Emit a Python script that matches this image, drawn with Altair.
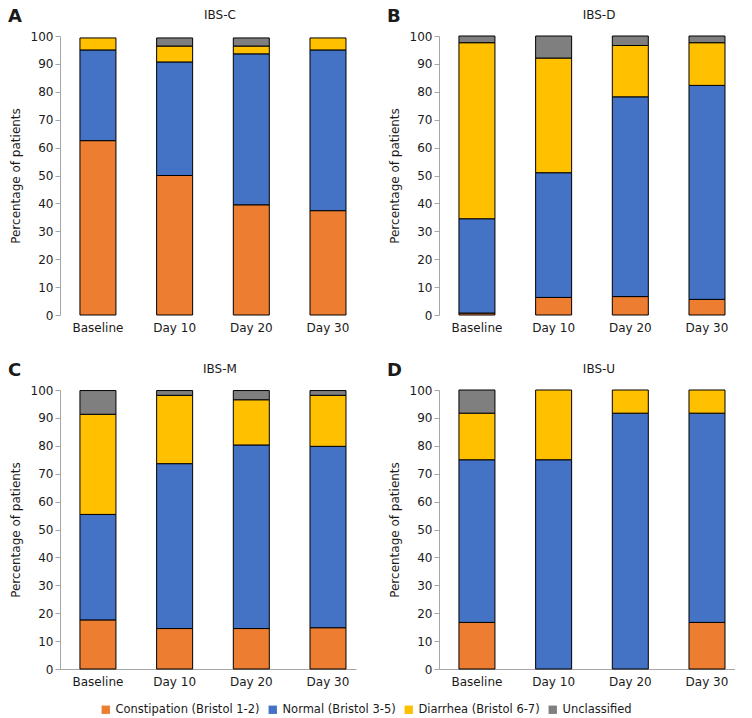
import altair as alt
import pandas as pd

categories = ["Constipation (Bristol 1-2)", "Normal (Bristol 3-5)", "Diarrhea (Bristol 6-7)", "Unclassified"]
colors = ["#ED7D31", "#4472C4", "#FFC000", "#7F7F7F"]
timepoints = ["Baseline", "Day 10", "Day 20", "Day 30"]

panel_titles = ["IBS-C", "IBS-D", "IBS-M", "IBS-U"]
panel_letters = ["A", "B", "C", "D"]

# IBS-C
c_constipation = [62.5, 50.0, 39.5, 37.4]
c_normal = [32.5, 40.7, 54.1, 57.6]
c_diarrhea = [4.3, 5.7, 2.8, 4.3]
c_unclassified = [0.0, 2.9, 2.9, 0.0]
# IBS-D
d_constipation = [0.7, 6.3, 6.6, 5.6]
d_normal = [33.8, 44.7, 71.6, 76.7]
d_diarrhea = [63.1, 41.1, 18.4, 15.3]
d_unclassified = [2.4, 7.9, 3.4, 2.4]
# IBS-M
m_constipation = [17.6, 14.5, 14.5, 14.8]
m_normal = [37.8, 59.1, 65.8, 65.0]
m_diarrhea = [35.9, 24.5, 16.2, 18.3]
m_unclassified = [8.5, 1.7, 3.3, 1.7]
# IBS-U
u_constipation = [16.7, 0.0, 0.0, 16.7]
u_normal = [58.3, 75.0, 91.7, 75.0]
u_diarrhea = [16.7, 25.0, 8.3, 8.3]
u_unclassified = [8.3, 0.0, 0.0, 0.0]

panel_series = [
    [c_constipation, c_normal, c_diarrhea, c_unclassified],
    [d_constipation, d_normal, d_diarrhea, d_unclassified],
    [m_constipation, m_normal, m_diarrhea, m_unclassified],
    [u_constipation, u_normal, u_diarrhea, u_unclassified],
]

FONT = "DejaVu Sans"
INK = "#1a1a1a"
W, H = 296, 279

color_scale = alt.Scale(domain=categories, range=colors)


def panel(i, bottom):
    rows = []
    for k, cat in enumerate(categories):
        for t, tp in enumerate(timepoints):
            v = panel_series[i][k][t]
            if v > 0:
                rows.append({"time": tp, "category": cat, "order": k, "value": v})
    df = pd.DataFrame(rows)
    bars = alt.Chart(df).mark_bar(stroke="black", strokeWidth=1, size=36).encode(
        x=alt.X("time:N", sort=timepoints, title=None,
                scale=alt.Scale(paddingInner=0.5, paddingOuter=0.18, align=0.68),
                axis=alt.Axis(labelAngle=0, ticks=False, domain=bottom, domainColor="#a6a6a6",
                              labelFont=FONT, labelFontSize=12, labelColor=INK, labelPadding=7)),
        y=alt.Y("value:Q", stack="zero", title="Percentage of patients",
                scale=alt.Scale(domain=[0, 100], nice=False),
                axis=alt.Axis(values=list(range(0, 101, 10)), grid=False, tickSize=5,
                              tickColor="#a6a6a6", domainColor="#a6a6a6",
                              labelFont=FONT, labelFontSize=12, labelColor=INK,
                              titleFont=FONT, titleFontSize=12, titleFontWeight="normal",
                              titleColor=INK, titlePadding=8)),
        color=alt.Color("category:N", scale=color_scale, sort=categories,
                        legend=alt.Legend(title=None, orient="none", direction="horizontal",
                                          legendX=40, legendY=668)),
        order=alt.Order("order:Q", sort="ascending"),
    )
    labels = alt.Chart(pd.DataFrame({"letter": [panel_letters[i]], "title": [panel_titles[i]]}))
    letter = labels.mark_text(
        font=FONT, fontSize=18, fontWeight="bold", color=INK, align="left", baseline="middle"
    ).encode(text="letter:N", x=alt.value(-52), y=alt.value(-19))
    title = labels.mark_text(
        font=FONT, fontSize=12, color=INK, align="center", baseline="middle"
    ).encode(text="title:N", x=alt.value(W / 2 + 12), y=alt.value(-21))
    return alt.layer(bars, letter, title).properties(width=W, height=H)


top = alt.hconcat(panel(0, False), panel(1, False), spacing=31)
bot = alt.hconcat(panel(2, True), panel(3, True), spacing=31)
chart = (
    alt.vconcat(top, bot, spacing=29)
    .configure_view(stroke=None)
    .configure_legend(symbolType="square", symbolSize=70, symbolStrokeWidth=0,
                      labelFont=FONT, labelFontSize=11.5, labelColor=INK,
                      labelOffset=4, columnPadding=7, labelLimit=300, gridAlign="none")
    .properties(padding=0)
)

chart.save("out.html", embed_options={"renderer": "svg", "actions": False})
